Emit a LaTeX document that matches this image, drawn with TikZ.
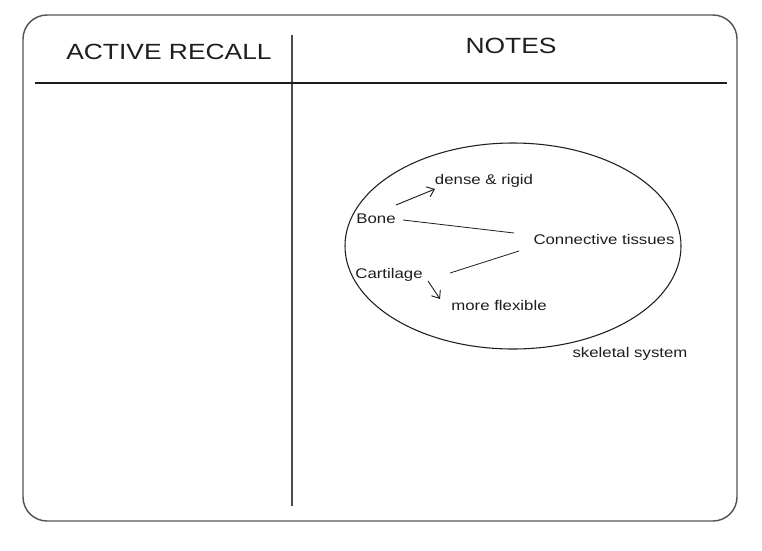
\documentclass[tikz,border=0pt]{standalone}
\usepackage{fontspec}
\setmainfont{Liberation Sans}
\newfontfamily\wide[FakeStretch=1.2]{Liberation Sans}
\usetikzlibrary{arrows.meta}
\definecolor{ink}{HTML}{1E1E1E}
\definecolor{frame}{HTML}{555555}
\begin{document}
\begin{tikzpicture}[x=0.75pt,y=-0.75pt,
  head/.style={text=ink,font=\wide\fontsize{16.5}{19}\selectfont},
  lbl/.style={text=ink,font=\wide\fontsize{10.5}{12}\selectfont,inner sep=1pt},
  link/.style={draw=ink,line width=0.6pt},
  arr/.style={draw=ink,line width=0.7pt,-{Straight Barb[length=5pt,width=8pt]}}]
\useasboundingbox (0,0) rectangle (762,550);
\fill[white] (0,0) rectangle (762,550);
% frame
\draw[frame,line width=1.1pt,rounded corners=18pt] (23,15) rectangle (737,521);
\draw[ink!80,line width=0.8pt] (292,35) -- (292,506);
\draw[ink,line width=0.8pt] (35,83) -- (727,83);
% headers
\node[head] (hac) at (169,52) {ACTIVE RECALL};
\node[head] (hno) at (511,46) {NOTES};
% ellipse
\draw[ink,line width=0.8pt] (513,246) ellipse [x radius=168, y radius=103];
% labels
\node[lbl] (dense) at (484,181) {dense \& rigid};
\node[lbl] (bone) at (376,219) {Bone};
\node[lbl] (conn) at (604,239) {Connective tissues};
\node[lbl] (cart) at (389,275) {Cartilage};
\node[lbl] (flex) at (499,305) {more flexible};
\node[lbl] (skel) at (630,354) {skeletal system};
% connectors
\coordinate (b1) at (403,220);
\coordinate (c1) at (514,233);
\coordinate (c2) at (519,251);
\coordinate (k1) at (450,273);
\coordinate (ba) at (396,205);
\coordinate (da) at (435,189);
\coordinate (ka) at (428,281);
\coordinate (fa) at (440,299);
\draw[link] (b1) -- (c1);
\draw[link] (k1) -- (c2);
\draw[arr] (ba) -- (da);
\draw[arr] (ka) -- (fa);
\end{tikzpicture}
\end{document}
